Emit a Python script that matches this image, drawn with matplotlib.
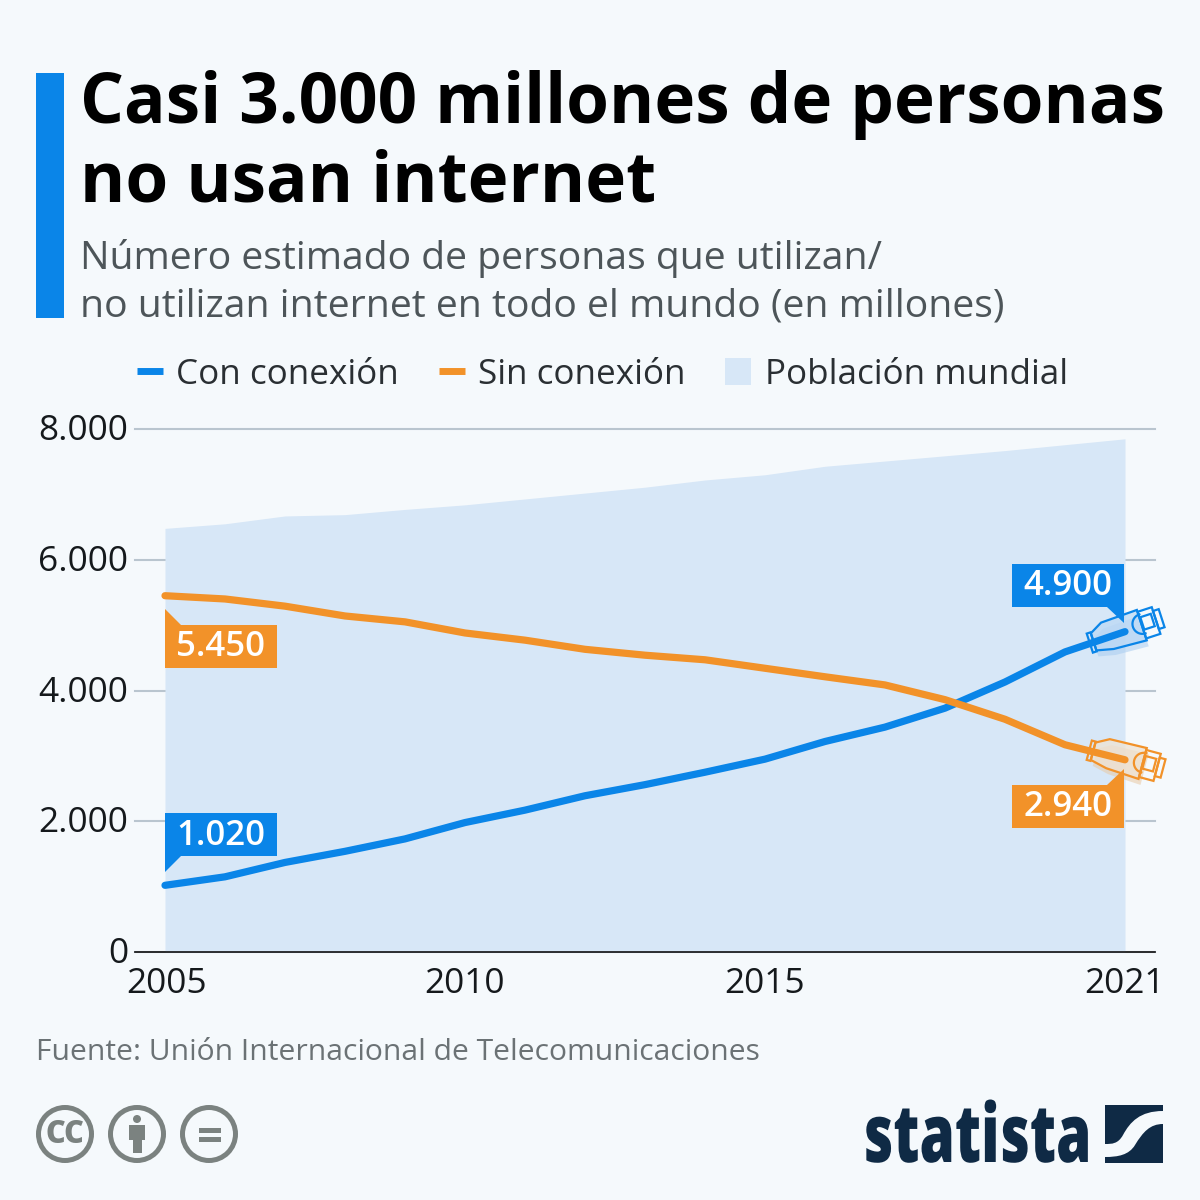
#!/usr/bin/env python
# encoding: utf-8
import numpy as np
import matplotlib
matplotlib.use('Agg')
import matplotlib.pyplot as plt
import matplotlib.patheffects as pe
from matplotlib.patches import Polygon, Rectangle, Circle, PathPatch
from matplotlib.path import Path
from matplotlib.lines import Line2D
from matplotlib.transforms import Affine2D

plt.rcParams['font.family'] = ['Open Sans', 'DejaVu Sans']

years = list(range(2005, 2022))
online = [1020, 1150, 1370, 1540, 1730, 1980, 2170, 2390, 2560, 2750, 2950, 3220, 3440, 3730, 4130, 4590, 4900]
offline = [5450, 5400, 5290, 5140, 5050, 4880, 4770, 4630, 4540, 4470, 4340, 4210, 4085, 3860, 3560, 3170, 2940]
population = [6480, 6550, 6670, 6690, 6770, 6840, 6930, 7020, 7110, 7220, 7300, 7430, 7510, 7590, 7670, 7760, 7850]
yticks = [0, 2000, 4000, 6000, 8000]
ytick_labels = ['0', '2.000', '4.000', '6.000', '8.000']
xticks = [2005, 2010, 2015, 2021]

BG = '#f5f9fc'
BLUE = '#0a85e8'
ORANGE = '#f29229'
AREA = '#d7e7f7'
GRID = '#b9c5cf'
GREY = '#7b8280'
NAVY = '#0f2a45'

fig = plt.figure(figsize=(12, 12), dpi=100, facecolor=BG)

# main chart, placed in pixels
ax = fig.add_axes([135 / 1200, 1 - 952 / 1200, 1020 / 1200, 523 / 1200], facecolor='none')
ax.set_xlim(2004.5, 2021.5)
ax.set_ylim(0, 8000)
ax.fill_between(years, population, color=AREA, lw=0, zorder=1)
ax.set_yticks(yticks, ytick_labels)
ax.set_xticks(xticks, [str(x) for x in xticks])
ax.tick_params(length=0, labelsize=25.4, colors='#15191c')
ax.tick_params(axis='y', pad=5)
ax.tick_params(axis='x', pad=11)
for t in ax.yaxis.get_major_ticks():
    t.label1.set_va('center')
    t.label1.set_transform(t.label1.get_transform() + Affine2D().translate(0, -2))
first = ax.xaxis.get_major_ticks()[0].label1
first.set_transform(first.get_transform() + Affine2D().translate(2, 0))
ax.grid(axis='y', color=GRID, lw=1.5, zorder=2, clip_on=False)
ax.set_axisbelow(True)
for s in ['top', 'left', 'right']:
    ax.spines[s].set_visible(False)
ax.spines['bottom'].set_color('#111111')
ax.spines['bottom'].set_linewidth(1.2)
ax.plot(years, online, color=BLUE, lw=5.2, solid_capstyle='round', zorder=5)
ax.plot(years, offline, color=ORANGE, lw=5.2, solid_capstyle='round', zorder=5)

# overlay in pixel coords for the decoration
ov = fig.add_axes([0, 0, 1, 1], facecolor='none', zorder=10)
ov.set_xlim(0, 1200)
ov.set_ylim(1200, 0)
ov.axis('off')


def to_px(x, y):
    p = ax.transData.transform((x, y))
    return p[0], 1200 - p[1]


def callout(x, y, val, color, side, below):
    # box hangs off the data point, with a small tail pointing at it
    px, py = to_px(x, y)
    if side == 'left':
        px -= 1
    x0 = px if side == 'right' else px - 112
    inner_x = px + 16 if side == 'right' else px - 17
    gap, tip = (29, 13) if side == 'right' else (25, 9)
    if below:
        y0 = py + gap
        tail = [(px, py + tip), (px, y0), (inner_x, y0)]
    else:
        y0 = py - gap - 43
        tail = [(px, py - tip), (px, y0 + 43), (inner_x, y0 + 43)]
    ov.add_patch(Rectangle((x0, y0), 112, 43, fc=color, ec='none', zorder=6))
    ov.add_patch(Polygon(tail, fc=color, ec='none', zorder=6))
    ov.text(x0 + 56, y0 + 22.5, f'{val:,}'.replace(',', '.'), color='white', fontsize=25,
            fontweight='semibold', ha='center', va='center', zorder=7)


def plug(x, y, angle, color, shadow, fill):
    # ethernet plug around the end of the line, goes under the line itself
    px, py = to_px(x, y)
    a = np.radians(angle)

    def rot(pts, off=(0, 0)):
        pts = np.array(pts, float)
        rx = pts[:, 0] * np.cos(a) + pts[:, 1] * np.sin(a) + px + off[0]
        ry = -pts[:, 0] * np.sin(a) + pts[:, 1] * np.cos(a) + py + off[1]
        return np.column_stack([rx, ry])

    body = [(-33, -9), (-20, -16), (18, -17), (18, 15), (-16, 13), (-33, 9)]
    collar = [(-37, -10), (-33, -10), (-33, 10), (-37, 10)]
    head = [(18, -15), (33, -15), (33, 13), (18, 13)]
    tip = [(33, -11), (39, -11), (39, 8), (33, 8)]
    inner = [(19, -9), (30, -9), (30, 4), (19, 4)]
    kw = dict(transform=ov.transData, clip_on=False)
    ax.add_patch(Polygon(rot(body, (2, 6)), fc=shadow, ec='none', alpha=0.55, zorder=3, **kw))
    ax.add_patch(Polygon(rot(body), fc=fill, ec='none', alpha=0.75, zorder=3.1, **kw))
    for shape in [body, collar, head, tip, inner]:
        ax.add_patch(Polygon(rot(shape), fc='none', ec=color, lw=1.6, zorder=3.2, **kw))
    t = np.radians(np.linspace(90, 270, 24))
    arc = rot(np.column_stack([19 + 10 * np.cos(t), -2 + 10 * np.sin(t)]))
    ax.plot(arc[:, 0], arc[:, 1], color=color, lw=1.6, zorder=3.2, **kw)


class Squeeze(pe.AbstractPathEffect):
    # narrows a text horizontally, for the logo lettering
    def __init__(self, sx, x0):
        super().__init__()
        self.sx = sx
        self.x0 = x0

    def draw_path(self, renderer, gc, tpath, affine, rgbFace=None):
        t = affine + Affine2D().translate(-self.x0, 0).scale(self.sx, 1).translate(self.x0, 0)
        renderer.draw_path(gc, tpath, t, rgbFace)


plug(years[-1], online[-1], 18, BLUE, '#a9cdf0', '#bcd9f5')
plug(years[-1], offline[-1], -15, ORANGE, '#e9c9a4', '#efe3d3')
callout(years[0], offline[0], offline[0], ORANGE, 'right', True)
callout(years[0], online[0], online[0], BLUE, 'right', False)
callout(years[-1], online[-1], online[-1], BLUE, 'left', False)
callout(years[-1], offline[-1], offline[-1], ORANGE, 'left', True)

# header
ov.add_patch(Rectangle((36, 73), 28, 245, fc=BLUE, ec='none'))
ov.text(80, 105.5, 'Casi 3.000 millones de personas', fontsize=49.8, fontweight='bold', color='black', va='center')
ov.text(80, 183.5, 'no usan internet', fontsize=49.8, fontweight='bold', color='black', va='center')
ov.text(80, 259, 'Número estimado de personas que utilizan/', fontsize=28.2, color='#4d5559', va='center')
ov.text(80, 307, 'no utilizan internet en todo el mundo (en millones)', fontsize=28.2, color='#4d5559', va='center')

# legend
handles = [Line2D([], [], color=BLUE, lw=5, solid_capstyle='butt'),
           Line2D([], [], color=ORANGE, lw=5, solid_capstyle='butt'),
           Rectangle((0, 0), 1, 1, fc=AREA, ec='none')]
ov.legend(handles, ['Con conexión', 'Sin conexión', 'Población mundial'], ncol=3, frameon=False,
          loc='center left', bbox_to_anchor=(137 / 1200, 1 - 375 / 1200), fontsize=25.2, labelcolor='#2a2f33',
          handlelength=0.74, handleheight=0.8, handletextpad=0.38, columnspacing=1.14, borderpad=0, borderaxespad=0)

# source
ov.text(36, 1053, 'Fuente: Unión Internacional de Telecomunicaciones', fontsize=21.6, color='#6b7275', va='center')

# cc icons
for cx in [65, 137, 209]:
    ov.add_patch(Circle((cx, 1134), 26.5, fc='none', ec=GREY, lw=3.6))
ov.text(65, 1135, 'CC', fontsize=22, fontweight=800, color=GREY, ha='center', va='center')
ov.add_patch(Circle((137, 1119), 4, fc=GREY, ec='none'))
ov.add_patch(Polygon([(129, 1125), (145, 1125), (145, 1140), (141.5, 1140), (141.5, 1153), (132.5, 1153), (132.5, 1140), (129, 1140)],
                     fc=GREY, ec='none'))
ov.add_patch(Rectangle((199, 1128), 22, 5, fc=GREY, ec='none'))
ov.add_patch(Rectangle((199, 1137), 22, 5, fc=GREY, ec='none'))

# logo
ov.text(863, 1162, 'statista', fontsize=58, fontweight=800, color=NAVY, va='baseline',
        path_effects=[Squeeze(0.706, 863)])
upper = Path([(1105, 1105), (1163, 1105), (1163, 1111), (1140, 1111), (1130, 1122), (1123, 1135), (1118, 1144), (1112, 1144), (1105, 1144), (1105, 1105)],
             [Path.MOVETO, Path.LINETO, Path.LINETO, Path.CURVE4, Path.CURVE4, Path.CURVE4, Path.CURVE4, Path.CURVE4, Path.CURVE4, Path.CLOSEPOLY])
lower = Path([(1163, 1124), (1150, 1124), (1143, 1132), (1135, 1145), (1129, 1155), (1118, 1157), (1105, 1157), (1105, 1163), (1163, 1163), (1163, 1124)],
             [Path.MOVETO, Path.CURVE4, Path.CURVE4, Path.CURVE4, Path.CURVE4, Path.CURVE4, Path.CURVE4, Path.LINETO, Path.LINETO, Path.CLOSEPOLY])
ov.add_patch(PathPatch(upper, fc=NAVY, ec='none'))
ov.add_patch(PathPatch(lower, fc=NAVY, ec='none'))

fig.savefig('out.png', dpi=100, facecolor=BG)
